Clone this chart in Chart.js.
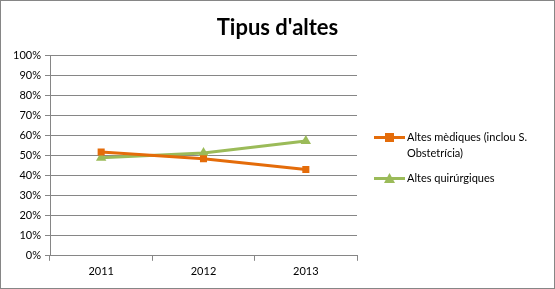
<!DOCTYPE html>
<html>
<head>
<meta charset="utf-8">
<script src="https://cdn.jsdelivr.net/npm/chart.js@4/dist/chart.umd.min.js"></script>
<style>
    body { margin: 0; background: #fff; }
    #wrap { position: relative; width: 555px; height: 289px; box-sizing: border-box; border: 1px solid #868686; }
    #chart { display: block; }
    #title { position: absolute; left: 0; top: 12px; width: 553px; text-align: center; font: bold 22px Lato, "Open Sans", sans-serif; color: #000; }
    #legend { position: absolute; left: 373px; top: 128px; width: 180px; font: 11px Lato, "Open Sans", sans-serif; color: #000; }
    .item { display: flex; align-items: flex-start; margin-bottom: 9px; line-height: 16px; }
    .item svg { flex: none; margin-right: 2px; margin-top: 3px; }
</style>
</head>
<body>
<div id="wrap">
    <canvas id="chart" width="553" height="287"></canvas>
    <div id="title">Tipus d'altes</div>
    <div id="legend"></div>
</div>
<script>
const years = ['2011', '2012', '2013'];
const medicalDischarges = [51.7, 48.3, 43.0];
const surgicalDischarges = [48.8, 51.2, 57.2];
const yTicks = [0, 10, 20, 30, 40, 50, 60, 70, 80, 90, 100];

const seriesList = [
    { label: 'Altes mèdiques (inclou S. Obstetrícia)', data: medicalDischarges, color: '#E46C0A', marker: 'rect', size: 5 },
    { label: 'Altes quirúrgiques', data: surgicalDischarges, color: '#9BBB59', marker: 'triangle', size: 6 }
];

const ctx = document.getElementById('chart').getContext('2d');

window.altesChart = new Chart(ctx, {
    type: 'line',
    data: {
        labels: years,
        datasets: seriesList.map(s => ({
            label: s.label,
            data: s.data,
            borderColor: s.color,
            backgroundColor: s.color,
            borderWidth: 3,
            pointStyle: s.marker,
            pointRadius: s.size,
            pointBorderWidth: 0,
            tension: 0
        }))
    },
    options: {
        responsive: false,
        animation: false,
        layout: { padding: { left: 0, right: 197, top: 54, bottom: 6 } },
        plugins: {
            legend: { display: false },
            tooltip: { enabled: false },
            title: { display: false }
        },
        scales: {
            x: {
                offset: true,
                grid: { display: true, drawOnChartArea: false, offset: true, color: '#868686', tickLength: 5 },
                border: { color: '#868686' },
                ticks: { color: '#000', font: { family: 'Lato, "Open Sans", sans-serif', size: 11 }, padding: 4 }
            },
            y: {
                min: 0,
                max: 100,
                afterBuildTicks: scale => { scale.ticks = yTicks.map(v => ({ value: v })); },
                afterFit: scale => { scale.width = 49; },
                grid: { color: '#868686', tickLength: 5 },
                border: { color: '#868686' },
                ticks: {
                    color: '#000',
                    font: { family: 'Lato, "Open Sans", sans-serif', size: 11 },
                    padding: 4,
                    callback: v => v + '%'
                }
            }
        }
    }
});

// legend as html so the long label can wrap like the original
const legendEl = document.getElementById('legend');
seriesList.forEach(s => {
    const mark = s.marker === 'rect'
        ? `<rect x="11" y="1" width="9" height="9" fill="${s.color}"/>`
        : `<polygon points="15.5,0 21,10 10,10" fill="${s.color}"/>`;
    legendEl.innerHTML += `
        <div class="item">
            <svg width="31" height="11"><line x1="0" y1="5.5" x2="31" y2="5.5" stroke="${s.color}" stroke-width="3"/>${mark}</svg>
            <span>${s.label}</span>
        </div>`;
});
</script>
</body>
</html>
